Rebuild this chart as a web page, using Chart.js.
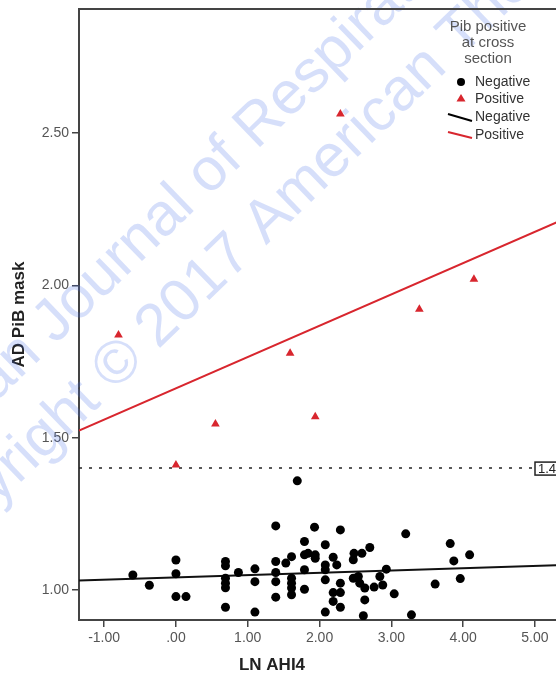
<!DOCTYPE html>
<html>
<head>
<meta charset="utf-8">
<script src="https://cdn.jsdelivr.net/npm/chart.js@4.4.1/dist/chart.umd.min.js"></script>
<style>
  html, body { margin: 0; padding: 0; background: #fff; overflow: hidden; }
</style>
</head>
<body>
<canvas id="pibChart" width="556" height="680"></canvas>
<script>
// values (x = LN AHI4, y = AD PiB mask)
const negAhi = [-0.60, -0.37, 0.00, 0.00, 0.00, 0.14, 0.69, 0.69, 0.69, 0.69, 0.69, 0.69,
  0.87, 1.10, 1.10, 1.10, 1.39, 1.39, 1.39, 1.39, 1.39, 1.53, 1.61, 1.61, 1.61, 1.61, 1.61,
  1.69, 1.79, 1.79, 1.79, 1.79, 1.93, 1.84, 1.94, 1.94, 2.08, 2.08, 2.08, 2.08, 2.08, 2.19,
  2.24, 2.29, 2.29, 2.19, 2.29, 2.19, 2.29, 2.48, 2.59, 2.47, 2.70, 2.47, 2.54, 2.56, 2.63,
  2.63, 2.61, 2.76, 2.88, 2.84, 2.93, 3.04, 3.20, 3.28, 3.61, 3.82, 3.87, 3.96, 4.09];
const negPib = [1.049, 1.015, 1.098, 1.053, 0.978, 0.978, 1.093, 1.079, 1.038, 1.022, 1.007, 0.943,
  1.057, 1.069, 1.027, 0.927, 1.210, 1.093, 1.057, 1.027, 0.976, 1.088, 1.109, 1.038, 1.022, 1.006, 0.984,
  1.358, 1.159, 1.115, 1.066, 1.002, 1.206, 1.120, 1.115, 1.104, 1.148, 1.082, 1.066, 1.033, 0.927, 1.107,
  1.082, 1.197, 1.022, 0.991, 0.991, 0.962, 0.943, 1.120, 1.120, 1.099, 1.139, 1.038, 1.044, 1.022, 1.006,
  0.967, 0.915, 1.009, 1.016, 1.044, 1.068, 0.987, 1.184, 0.918, 1.019, 1.152, 1.095, 1.037, 1.115];

const posAhi = [-0.80, 0.00, 0.55, 1.59, 1.94, 2.29, 3.39, 4.15];
const posPib = [1.837, 1.410, 1.545, 1.777, 1.569, 2.563, 1.922, 2.020];

// fit line end points
const negFitX = [-1.35, 5.30];
const negFitY = [1.031, 1.081];
const posFitX = [-1.35, 5.30];
const posFitY = [1.523, 2.207];

const refValue = 1.40;
const refLabel = '1.4';

const xTicks = [-1, 0, 1, 2, 3, 4, 5];
const xTickLabels = ['-1.00', '.00', '1.00', '2.00', '3.00', '4.00', '5.00'];
const yTicks = [1.0, 1.5, 2.0, 2.5];
const yTickLabels = ['1.00', '1.50', '2.00', '2.50'];

const legendTitle = ['Pib positive', 'at cross', 'section'];
const legendLabels = ['Negative', 'Positive', 'Negative', 'Positive'];
const watermark = ['American Journal of Respiratory and Critical Care Medicine',
  'Copyright \u00A9 2017 American Thoracic Society'];

const FONT = '"Liberation Sans", Arial, sans-serif';
const RED = '#d8262e';
const AXIS = '#444';

function pts(xs, ys) { return xs.map((x, i) => ({ x: x, y: ys[i] })); }

// watermark behind the marks, frame, legend and labels on top
const decor = {
  id: 'decor',
  beforeDatasetsDraw(chart) {
    const ctx = chart.ctx;
    ctx.save();
    ctx.fillStyle = 'rgba(70,110,230,0.22)';
    ctx.font = '60px ' + FONT;
    ctx.textBaseline = 'alphabetic';
    ctx.textAlign = 'left';
    ctx.translate(55, 345);
    ctx.rotate(-44 * Math.PI / 180);
    ctx.fillText(watermark[0], -ctx.measureText('American ').width, 0);
    ctx.fillText(watermark[1], 10 - ctx.measureText('Copyright ').width, 75);
    ctx.restore();
  },
  afterDraw(chart) {
    const ctx = chart.ctx;
    const a = chart.chartArea;
    const yS = chart.scales.y;
    ctx.save();

    // top frame line
    ctx.strokeStyle = AXIS;
    ctx.lineWidth = 2;
    ctx.beginPath();
    ctx.moveTo(a.left, a.top);
    ctx.lineTo(chart.width, a.top);
    ctx.stroke();

    // reference line label box
    const ry = yS.getPixelForValue(refValue);
    ctx.fillStyle = '#fff';
    ctx.fillRect(535, ry - 6, 40, 13);
    ctx.strokeStyle = '#222';
    ctx.lineWidth = 1.5;
    ctx.strokeRect(535, ry - 6, 40, 13);
    ctx.fillStyle = '#222';
    ctx.font = '13px ' + FONT;
    ctx.textAlign = 'left';
    ctx.textBaseline = 'middle';
    ctx.fillText(refLabel, 538, ry + 1);

    // x axis title
    ctx.fillStyle = '#222';
    ctx.font = 'bold 17px ' + FONT;
    ctx.textAlign = 'center';
    ctx.fillText('LN AHI4', 272, 665);

    // legend
    ctx.fillStyle = '#555';
    ctx.font = '15px ' + FONT;
    legendTitle.forEach((t, i) => ctx.fillText(t, 488, 27 + i * 16));
    const rows = [82, 99, 117, 135];
    ctx.fillStyle = '#000';
    ctx.beginPath();
    ctx.arc(461, rows[0], 4, 0, Math.PI * 2);
    ctx.fill();
    ctx.fillStyle = RED;
    ctx.beginPath();
    ctx.moveTo(461, rows[1] - 5);
    ctx.lineTo(465.5, rows[1] + 2.5);
    ctx.lineTo(456.5, rows[1] + 2.5);
    ctx.closePath();
    ctx.fill();
    ctx.lineWidth = 2;
    ctx.strokeStyle = '#000';
    ctx.beginPath();
    ctx.moveTo(448, rows[2] - 3);
    ctx.lineTo(472, rows[2] + 4);
    ctx.stroke();
    ctx.strokeStyle = RED;
    ctx.beginPath();
    ctx.moveTo(448, rows[3] - 3);
    ctx.lineTo(472, rows[3] + 3);
    ctx.stroke();
    ctx.fillStyle = '#333';
    ctx.font = '14px ' + FONT;
    ctx.textAlign = 'left';
    legendLabels.forEach((t, i) => ctx.fillText(t, 475, rows[i]));
    ctx.restore();
  }
};

const ctx = document.getElementById('pibChart').getContext('2d');
new Chart(ctx, {
  type: 'scatter',
  data: {
    datasets: [
      {
        label: 'Negative', data: pts(negAhi, negPib),
        pointStyle: 'circle', pointRadius: 4.5, backgroundColor: '#000', borderWidth: 0
      },
      {
        label: 'Positive', data: pts(posAhi, posPib),
        pointStyle: 'triangle', pointRadius: 5, backgroundColor: RED, borderWidth: 0
      },
      {
        label: 'Negative fit', data: pts(negFitX, negFitY), showLine: true,
        borderColor: '#111', borderWidth: 2, pointRadius: 0
      },
      {
        label: 'Positive fit', data: pts(posFitX, posFitY), showLine: true,
        borderColor: RED, borderWidth: 2, pointRadius: 0
      },
      {
        label: 'Reference', data: pts([-1.35, 5.30], [refValue, refValue]), showLine: true,
        borderColor: '#222', borderWidth: 1.5, borderDash: [3, 7], pointRadius: 0
      }
    ]
  },
  options: {
    responsive: false,
    animation: false,
    layout: { autoPadding: false, padding: { top: 9, left: 0, right: 0, bottom: 0 } },
    plugins: { legend: { display: false }, tooltip: { enabled: false } },
    scales: {
      x: {
        type: 'linear', min: -1.35, max: 5.293,
        afterBuildTicks: s => { s.ticks = xTicks.map(v => ({ value: v })); },
        afterFit: s => { s.height = 60; s.paddingLeft = 0; s.paddingRight = 0; },
        ticks: {
          autoSkip: false, maxRotation: 0, padding: 3, color: '#555',
          font: { size: 14, family: FONT },
          callback: v => xTickLabels[xTicks.indexOf(v)]
        },
        grid: { drawOnChartArea: false, tickLength: 7, color: AXIS, lineWidth: 1.5 },
        border: { display: true, color: AXIS, width: 2 }
      },
      y: {
        type: 'linear', min: 0.901, max: 2.908,
        afterBuildTicks: s => { s.ticks = yTicks.map(v => ({ value: v })); },
        afterFit: s => { s.width = 79; s.paddingTop = 0; s.paddingBottom = 0; },
        ticks: {
          autoSkip: false, padding: 3, color: '#555',
          font: { size: 14, family: FONT },
          callback: v => yTickLabels[yTicks.indexOf(v)]
        },
        grid: { drawOnChartArea: false, tickLength: 7, color: AXIS, lineWidth: 1.5 },
        border: { display: true, color: AXIS, width: 2 },
        title: {
          display: true, text: 'AD PiB mask', color: '#222',
          font: { size: 17, weight: 'bold', family: FONT },
          padding: { top: 9, bottom: 0 }
        }
      }
    }
  },
  plugins: [decor]
});
</script>
</body>
</html>
